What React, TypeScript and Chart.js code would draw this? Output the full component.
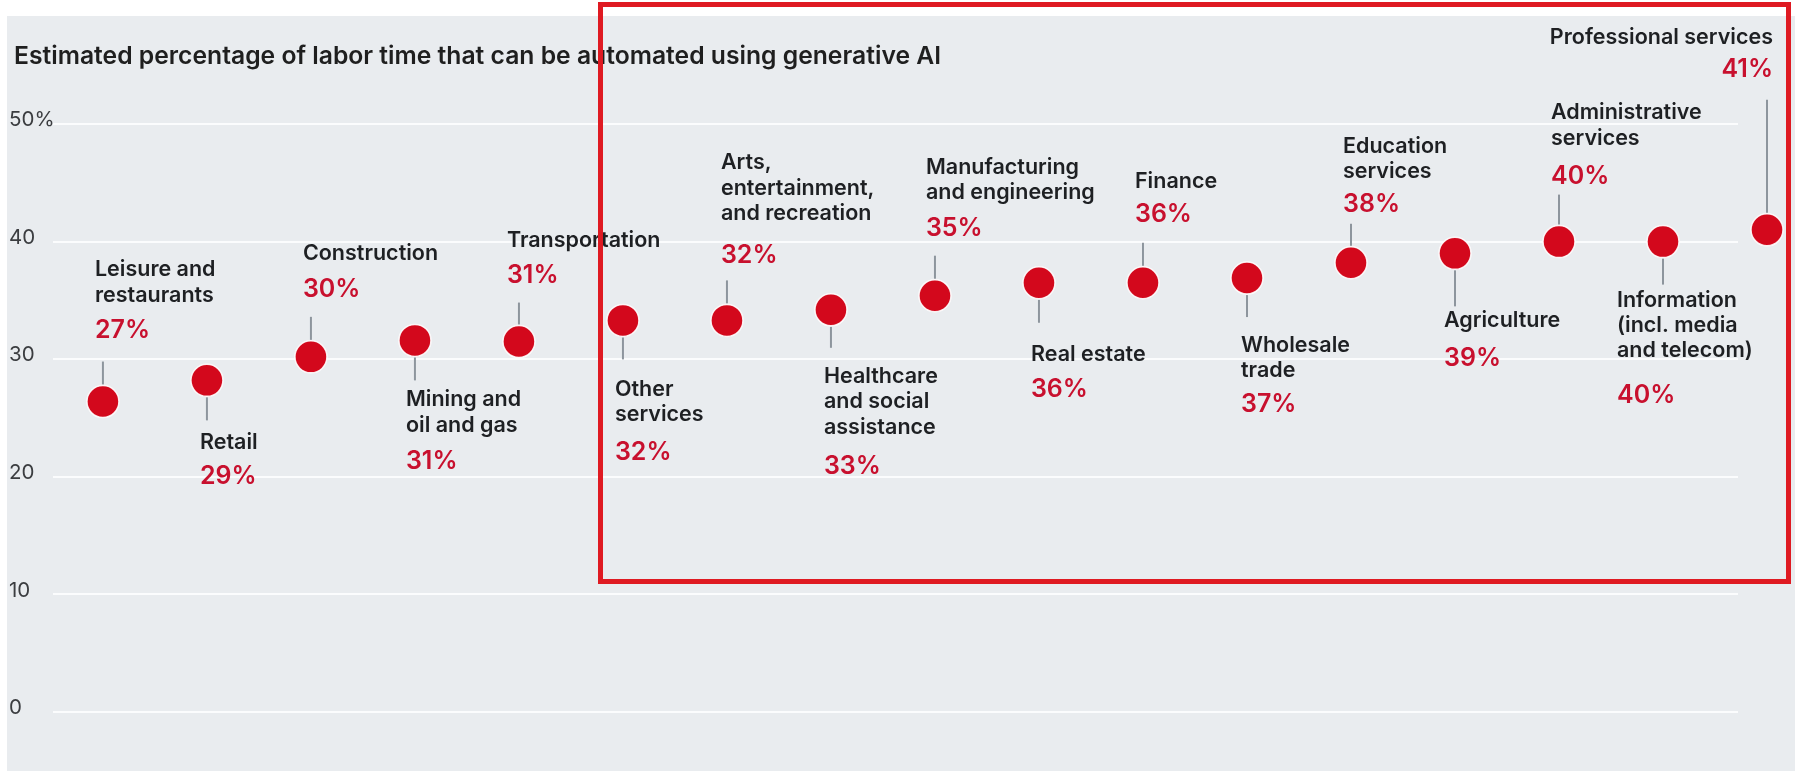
import { useEffect, useRef } from "react";
import { Chart, registerables, type ChartConfiguration, type Plugin } from "chart.js";

Chart.register(...registerables);

// industries in chart order, broken into the lines shown on the chart
const industries: string[][] = [
  ["Leisure and", "restaurants"],
  ["Retail"],
  ["Construction"],
  ["Mining and", "oil and gas"],
  ["Transportation"],
  ["Other", "services"],
  ["Arts,", "entertainment,", "and recreation"],
  ["Healthcare", "and social", "assistance"],
  ["Manufacturing", "and engineering"],
  ["Real estate"],
  ["Finance"],
  ["Wholesale", "trade"],
  ["Education", "services"],
  ["Agriculture"],
  ["Administrative", "services"],
  ["Information", "(incl. media", "and telecom)"],
  ["Professional services"],
];

// share of labor time (%) as plotted
const automationShare = [26.4, 28.2, 30.2, 31.6, 31.5, 33.3, 33.3, 34.2, 35.4, 36.5, 36.5, 36.9, 38.2, 39.0, 40.0, 40.0, 41.0];

// printed value labels
const shareLabels = ["27%", "29%", "30%", "31%", "31%", "32%", "32%", "33%", "35%", "36%", "36%", "37%", "38%", "39%", "40%", "40%", "41%"];

const yTickLabels = ["0", "10", "20", "30", "40", "50%"];

const TITLE = "Estimated percentage of labor time that can be automated using generative AI";

const FONT = "Inter, 'Noto Sans', sans-serif";
const RED = "#d3081c";
const PCT = "#c8102e";
const TEXT = "#1e2023";
const LEADER = "#8d959d";
const PANEL = "#e9ecef";
const GRID = "#fbfcfd";
const RADIUS = 16;
const LINE_H = 25.2;

// pin layout, per item: even items hang above the dot, odd items below.
// gapA: leader end -> first text row, gapB: between name block and % value
const leaderLen = [23, 23, 23, 23, 22, 22, 23, 21, 23, 23, 23, 22, 22, 36, 30, 26, 113];
const gapA = [31, 22, 27.5, 19.5, 27.5, 30, 25, 29, 27.5, 32, 28.5, 28, 19.5, 14, 18.5, 16, 30];
const gapB = [35.5, 34.5, 35.5, 36.5, 34.5, 38, 42, 39, 35.5, 34.5, 33, 34.5, 33, 38, 38, 44.5, 32];
const labelDx = [-8, -7, -8, -9, -12, -8, -6, -7, -9, -8, -8, -6, -8, -11, -8, -46, 6];

// horizontal rules stop short of the last pin, as in the source
const shortGrid: Plugin<"scatter"> = {
  id: "shortGrid",
  beforeDatasetsDraw(chart) {
    const { ctx, chartArea } = chart;
    const y = chart.scales.y;
    ctx.save();
    ctx.strokeStyle = GRID;
    ctx.lineWidth = 2;
    y.ticks.forEach((t) => {
      const py = Math.round(y.getPixelForValue(t.value));
      ctx.beginPath();
      ctx.moveTo(chartArea.left, py);
      ctx.lineTo(chartArea.right - 29, py);
      ctx.stroke();
    });
    ctx.restore();
  },
};

const pinLabels: Plugin<"scatter"> = {
  id: "pinLabels",
  beforeDatasetsDraw(chart) {
    const { ctx } = chart;
    const pts = chart.getDatasetMeta(0).data;
    ctx.save();
    pts.forEach((pt, i) => {
      const { x, y } = pt.getProps(["x", "y"], true) as { x: number; y: number };
      const up = i % 2 === 0;
      const y0 = up ? y - RADIUS - 1 : y + RADIUS + 1;
      const y1 = up ? y0 - leaderLen[i] : y0 + leaderLen[i];
      ctx.strokeStyle = LEADER;
      ctx.lineWidth = 2;
      ctx.beginPath();
      ctx.moveTo(x, y0);
      ctx.lineTo(x, y1);
      ctx.stroke();

      const lines = industries[i];
      let lineYs: number[];
      let pctY: number;
      if (up) {
        pctY = y1 - gapA[i];
        const lastY = pctY - gapB[i];
        lineYs = lines.map((_, k) => lastY - (lines.length - 1 - k) * LINE_H);
      } else {
        const firstY = y1 + gapA[i];
        lineYs = lines.map((_, k) => firstY + k * LINE_H);
        pctY = lineYs[lineYs.length - 1] + gapB[i];
      }
      const tx = x + labelDx[i];
      ctx.textAlign = i === industries.length - 1 ? "right" : "left";
      ctx.textBaseline = "middle";
      ctx.fillStyle = TEXT;
      ctx.font = `600 21.5px ${FONT}`;
      lines.forEach((t, k) => ctx.fillText(t, tx, lineYs[k]));
      ctx.fillStyle = PCT;
      ctx.font = `600 25px ${FONT}`;
      ctx.fillText(shareLabels[i], tx, pctY);
    });
    ctx.restore();
  },
};

function PinChart() {
  const canvasRef = useRef<HTMLCanvasElement>(null);
  const chartRef = useRef<Chart | null>(null);

  useEffect(() => {
    if (!canvasRef.current) return;
    chartRef.current?.destroy();

    const cfg: ChartConfiguration<"scatter"> = {
      type: "scatter",
      data: {
        datasets: [
          {
            data: automationShare.map((v, i) => ({ x: i, y: v })),
            pointRadius: RADIUS,
            pointHoverRadius: RADIUS,
            pointBackgroundColor: RED,
            pointBorderColor: "rgba(255,255,255,0.9)",
            pointBorderWidth: 1.5,
            clip: false,
          },
        ],
      },
      options: {
        responsive: true,
        maintainAspectRatio: false,
        animation: false,
        layout: { padding: { left: 9, top: 124, right: 28, bottom: 59 } },
        plugins: {
          legend: { display: false },
          tooltip: { enabled: false },
        },
        scales: {
          x: { type: "linear", display: false, min: -0.48, max: 16 },
          y: {
            min: 0,
            max: 50,
            afterFit: (s) => {
              s.width = 44;
            },
            grid: { display: false },
            border: { display: false },
            ticks: {
              stepSize: 10,
              padding: 0,
              crossAlign: "far",
              labelOffset: -4,
              color: "#3b3d40",
              font: { family: FONT, size: 20.5, weight: 400 },
              callback: (v) => yTickLabels[Math.round(Number(v) / 10)],
            },
          },
        },
      },
      plugins: [shortGrid, pinLabels],
    };

    chartRef.current = new Chart(canvasRef.current, cfg);
    return () => {
      chartRef.current?.destroy();
      chartRef.current = null;
    };
  }, []);

  return (
    <div style={{ position: "absolute", left: 0, top: 0, width: 1795, height: 771 }}>
      <canvas ref={canvasRef} />
    </div>
  );
}

export default function App() {
  return (
    <div style={{ position: "absolute", left: 0, top: 0, width: 1795, height: 771, background: "#fff", overflow: "hidden" }}>
      <div style={{ position: "absolute", left: 7, top: 16, width: 1788, height: 755, background: PANEL }} />
      <PinChart />
      <div
        style={{
          position: "absolute",
          left: 14,
          top: 40,
          font: `600 24.7px ${FONT}`,
          lineHeight: "30px",
          color: "#1f1f1f",
          whiteSpace: "nowrap",
        }}
      >
        {TITLE}
      </div>
      <div
        style={{
          position: "absolute",
          left: 598,
          top: 2,
          width: 1193,
          height: 582,
          border: "5px solid #df1a22",
          boxSizing: "border-box",
          pointerEvents: "none",
        }}
      />
    </div>
  );
}
